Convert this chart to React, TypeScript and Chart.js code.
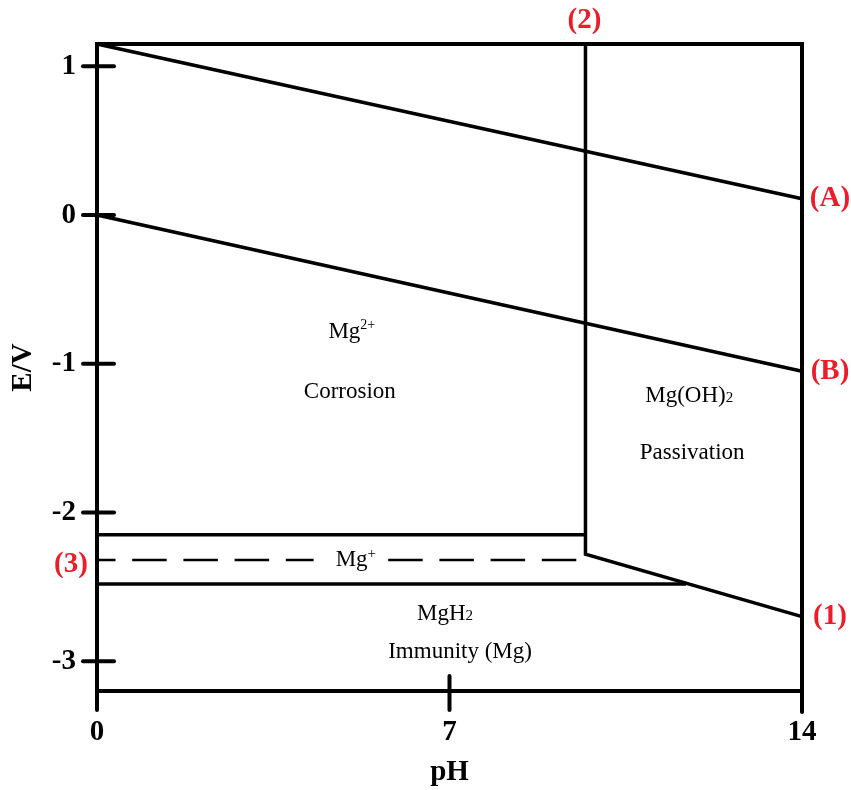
import React, { useEffect, useRef } from 'react';
import { Chart, registerables } from 'chart.js';

Chart.register(...registerables);

// ---------- data ----------
const X_TICKS = [0, 7, 14];
const Y_TICKS = [1, 0, -1, -2, -3];
const PH_MIN = 0;
const PH_MAX = 14;
const E_MIN = -3.2;
const E_MAX = 1.15;

// (A) oxygen line
const lineA_pH = [0, 14];
const lineA_E = [1.15, 0.11];
// (B) hydrogen line
const lineB_pH = [0, 14];
const lineB_E = [0, -1.05];
// (2) vertical boundary + (1) sloped boundary
const line21_pH = [9.7, 9.7, 14];
const line21_E = [1.15, -2.28, -2.7];
// upper boundary of Mg+ band
const mgPlusTop_pH = [0, 9.7];
const mgPlusTop_E = [-2.15, -2.15];
// (3) dashed line
const line3_pH = [0, 9.53];
const line3_E = [-2.32, -2.32];
// lower boundary (MgH2 top)
const mgH2Top_pH = [0, 11.7];
const mgH2Top_E = [-2.48, -2.48];

const FAMILY = "'Liberation Serif', 'Times New Roman', serif";
const RED = '#ec1c2a';

type Run = { t: string; s: number; dy: number };
const regionLabels: { pH: number; E: number; runs: Run[]; mask?: boolean }[] = [
  { pH: 5.06, E: -0.83, runs: [{ t: 'Mg', s: 23, dy: 0 }, { t: '2+', s: 14, dy: -9 }] },
  { pH: 5.02, E: -1.23, runs: [{ t: 'Corrosion', s: 23, dy: 0 }] },
  { pH: 11.76, E: -1.26, runs: [{ t: 'Mg(OH)', s: 23, dy: 0 }, { t: '2', s: 15, dy: 0 }] },
  { pH: 11.82, E: -1.64, runs: [{ t: 'Passivation', s: 23, dy: 0 }] },
  { pH: 5.14, E: -2.36, runs: [{ t: 'Mg', s: 23, dy: 0 }, { t: '+', s: 15, dy: -8 }], mask: true },
  { pH: 6.91, E: -2.72, runs: [{ t: 'MgH', s: 23, dy: 0 }, { t: '2', s: 15, dy: 0 }] },
  { pH: 7.21, E: -2.98, runs: [{ t: 'Immunity (Mg)', s: 23, dy: 0 }] },
];

// red line labels anchored at line ends (pH, E) with pixel offset
const lineLabels = [
  { text: '(A)', pH: 14, E: 0.11, dx: 28, dy: 0 },
  { text: '(B)', pH: 14, E: -1.05, dx: 28, dy: 0 },
  { text: '(1)', pH: 14, E: -2.7, dx: 28, dy: 0 },
  { text: '(2)', pH: 9.7, E: 1.15, dx: -1, dy: -23 },
  { text: '(3)', pH: 0, E: -2.32, dx: -26, dy: 4 },
];

const toPts = (xs: number[], ys: number[]) => xs.map((x, i) => ({ x, y: ys[i] }));

const decorPlugin = {
  id: 'decor',
  afterDatasetsDraw(chart: any) {
    const ctx: CanvasRenderingContext2D = chart.ctx;
    const xs = chart.scales.x;
    const ys = chart.scales.y;
    const { left, right, top, bottom } = chart.chartArea;
    ctx.save();

    // region labels
    ctx.fillStyle = '#000';
    ctx.textBaseline = 'alphabetic';
    ctx.textAlign = 'left';
    regionLabels.forEach((lab) => {
      const cx = xs.getPixelForValue(lab.pH);
      const by = ys.getPixelForValue(lab.E);
      const widths = lab.runs.map((r) => {
        ctx.font = `${r.s}px ${FAMILY}`;
        return ctx.measureText(r.t).width;
      });
      const total = widths.reduce((a, b) => a + b, 0);
      let x = cx - total / 2;
      if (lab.mask) {
        ctx.fillStyle = '#fff';
        ctx.fillRect(x - 22, by - 18, total + 33, 22);
        ctx.fillStyle = '#000';
      }
      lab.runs.forEach((r, i) => {
        ctx.font = `${r.s}px ${FAMILY}`;
        ctx.fillText(r.t, x, by + r.dy);
        x += widths[i];
      });
    });

    // frame
    ctx.strokeStyle = '#000';
    ctx.lineWidth = 4;
    ctx.lineJoin = 'miter';
    ctx.lineCap = 'round';
    ctx.beginPath();
    ctx.moveTo(left, bottom + 19);
    ctx.lineTo(left, top);
    ctx.lineTo(right, top);
    ctx.lineTo(right, bottom + 21);
    ctx.stroke();
    ctx.beginPath();
    ctx.moveTo(left, bottom);
    ctx.lineTo(right, bottom);
    ctx.stroke();

    // y tick marks crossing the axis
    Y_TICKS.forEach((v) => {
      const py = ys.getPixelForValue(v);
      ctx.beginPath();
      ctx.moveTo(left - 14, py);
      ctx.lineTo(left + 17, py);
      ctx.stroke();
    });
    // x tick marks (inner ones)
    X_TICKS.forEach((v) => {
      if (v === PH_MIN || v === PH_MAX) return;
      const px = xs.getPixelForValue(v);
      ctx.beginPath();
      ctx.moveTo(px, bottom - 15);
      ctx.lineTo(px, bottom + 19);
      ctx.stroke();
    });

    // red labels
    ctx.fillStyle = RED;
    ctx.font = `bold 29px ${FAMILY}`;
    ctx.textAlign = 'center';
    ctx.textBaseline = 'middle';
    lineLabels.forEach((l) => {
      ctx.fillText(l.text, xs.getPixelForValue(l.pH) + l.dx, ys.getPixelForValue(l.E) + l.dy);
    });
    ctx.restore();
  },
};

export default function App() {
  const ref = useRef<HTMLCanvasElement | null>(null);
  useEffect(() => {
    if (!ref.current) return;
    const solid = { borderColor: '#000', borderWidth: 3.5, pointRadius: 0, showLine: true, fill: false, clip: false as any, tension: 0 };
    const tickFont = { family: FAMILY, size: 29, weight: 'bold' as const };
    const chart = new Chart(ref.current, {
      type: 'scatter',
      data: {
        datasets: [
          { ...solid, label: 'A', data: toPts(lineA_pH, lineA_E) },
          { ...solid, label: 'B', data: toPts(lineB_pH, lineB_E) },
          { ...solid, label: '2-1', data: toPts(line21_pH, line21_E), borderJoinStyle: 'miter' as const },
          { ...solid, label: 'Mg+ top', data: toPts(mgPlusTop_pH, mgPlusTop_E) },
          { ...solid, label: '3', data: toPts(line3_pH, line3_E), borderWidth: 2.5, borderDash: [34.5, 16.7], borderDashOffset: 16 },
          { ...solid, label: 'MgH2 top', data: toPts(mgH2Top_pH, mgH2Top_E) },
        ],
      },
      options: {
        animation: false,
        responsive: false,
        maintainAspectRatio: false,
        layout: { padding: { left: 0, top: 44, right: 49, bottom: 0 } },
        plugins: { legend: { display: false }, tooltip: { enabled: false } },
        scales: {
          x: {
            type: 'linear',
            min: PH_MIN,
            max: PH_MAX,
            afterBuildTicks: (s: any) => { s.ticks = X_TICKS.map((v) => ({ value: v })); },
            afterFit: (s: any) => { s.height = 99; },
            grid: { display: false, drawTicks: false },
            border: { display: false },
            ticks: { padding: 24, color: '#000', font: tickFont, callback: (v: any) => String(v), maxRotation: 0 },
            title: { display: true, text: 'pH', color: '#000', font: tickFont, padding: { top: 0, bottom: 0 } },
          },
          y: {
            type: 'linear',
            min: E_MIN,
            max: E_MAX,
            afterBuildTicks: (s: any) => { s.ticks = Y_TICKS.map((v) => ({ value: v })); },
            afterFit: (s: any) => { s.width = 97; },
            grid: { display: false, drawTicks: false },
            border: { display: false },
            ticks: { padding: 21, color: '#000', font: tickFont, callback: (v: any) => String(v) },
            title: { display: true, text: 'E/V', color: '#000', font: tickFont, padding: { top: 6, bottom: 0 } },
          },
        },
      },
      plugins: [decorPlugin],
    });
    return () => chart.destroy();
  }, []);
  return (
    <div style={{ position: 'absolute', left: 0, top: 0, width: 851, height: 790, background: '#fff' }}>
      <canvas ref={ref} width={851} height={790} style={{ width: 851, height: 790 }} />
    </div>
  );
}
